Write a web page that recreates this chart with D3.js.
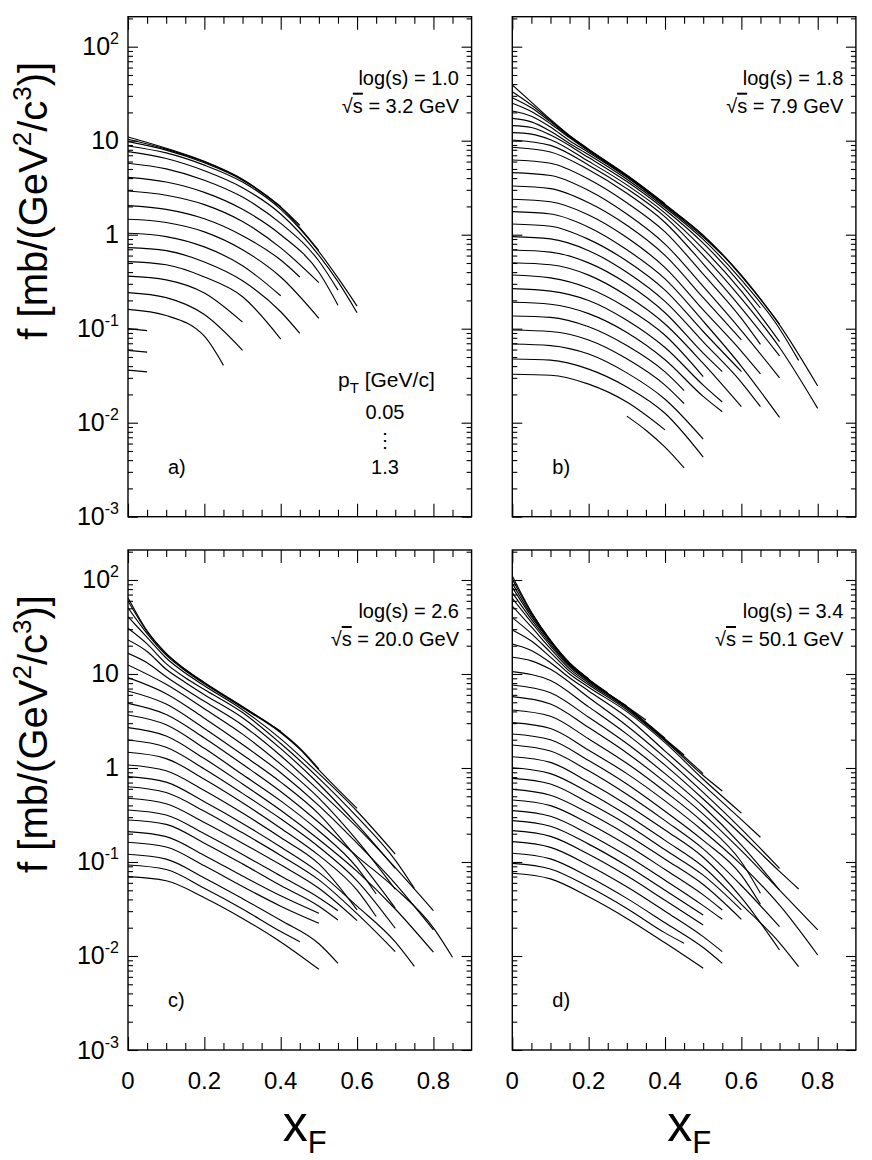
<!DOCTYPE html>
<html><head><meta charset="utf-8">
<script src="https://cdn.jsdelivr.net/npm/d3@7"></script>
<style>
body{margin:0;background:#fff}
text{font-family:"Liberation Sans",Arial,Helvetica,sans-serif;fill:#000}
</style></head><body>
<svg id="chart" width="872" height="1160"></svg>
<script>
// ---------- data (curve points are [xF, log10 f], f in mb/(GeV^2/c^3)) ----------
const xMajorTicks = [0, 0.2, 0.4, 0.6, 0.8];
const xTickLabels = ["0", "0.2", "0.4", "0.6", "0.8"];
const yDecadeExps = [2, 1, 0, -1, -2, -3];
const yTickBase = ["10", "10", "1", "10", "10", "10"];
const yTickSup = ["2", "", "", "-1", "-2", "-3"];
const panelLetters = ["a)", "b)", "c)", "d)"];
const logSLabels = ["1.0", "1.8", "2.6", "3.4"];
const sqrtSLabels = ["3.2", "7.9", "20.0", "50.1"];
const legendPt = ["0.05", "1.3"];

const curvesA = [
 [[0,1.04],[0.1,0.92],[0.2,0.78],[0.3,0.59],[0.4,0.30]],
 [[0,1.015],[0.1,0.91],[0.2,0.775],[0.3,0.585],[0.4,0.295],[0.45,0.10]],
 [[0,0.99],[0.1,0.90],[0.2,0.765],[0.3,0.58],[0.4,0.29],[0.5,-0.17]],
 [[0,0.944],[0.1,0.87],[0.2,0.74],[0.3,0.56],[0.4,0.27],[0.5,-0.18],[0.55,-0.46],[0.6,-0.76]],
 [[0,0.883],[0.1,0.81],[0.2,0.68],[0.3,0.50],[0.4,0.22],[0.5,-0.22],[0.55,-0.50],[0.6,-0.83]],
 [[0,0.76],[0.1,0.70],[0.2,0.58],[0.3,0.40],[0.4,0.12],[0.5,-0.28],[0.55,-0.59]],
 [[0,0.61],[0.1,0.56],[0.2,0.45],[0.3,0.27],[0.4,0.0],[0.5,-0.40],[0.55,-0.75]],
 [[0,0.465],[0.1,0.42],[0.2,0.32],[0.3,0.14],[0.4,-0.14],[0.5,-0.51]],
 [[0,0.31],[0.1,0.27],[0.2,0.17],[0.3,-0.01],[0.4,-0.27],[0.45,-0.45]],
 [[0,0.164],[0.1,0.13],[0.2,0.03],[0.3,-0.16],[0.4,-0.45],[0.5,-0.89]],
 [[0,0.015],[0.1,-0.02],[0.2,-0.13],[0.3,-0.33],[0.4,-0.65]],
 [[0,-0.138],[0.1,-0.17],[0.2,-0.29],[0.3,-0.49],[0.4,-0.82],[0.45,-1.05]],
 [[0,-0.287],[0.1,-0.32],[0.2,-0.45],[0.3,-0.66],[0.4,-1.11]],
 [[0,-0.44],[0.1,-0.48],[0.2,-0.62],[0.3,-0.93]],
 [[0,-0.617],[0.1,-0.67],[0.2,-0.85],[0.3,-1.23]],
 [[0,-0.794],[0.1,-0.86],[0.2,-1.08],[0.25,-1.39]],
 [[0,-1.0],[0.05,-1.02]],
 [[0,-1.23],[0.05,-1.25]],
 [[0,-1.44],[0.05,-1.46]]
];

const curvesB = [
 [[0,1.593],[0.05,1.41],[0.1,1.225],[0.15,1.055],[0.2,0.91],[0.3,0.635],[0.4,0.33]],
 [[0,1.521],[0.05,1.38],[0.1,1.215],[0.15,1.05],[0.2,0.905],[0.3,0.63],[0.4,0.325],[0.45,0.16]],
 [[0,1.457],[0.05,1.35],[0.1,1.2],[0.15,1.04],[0.2,0.9],[0.3,0.625],[0.4,0.32],[0.5,-0.005],[0.6,-0.43],[0.7,-0.95]],
 [[0,1.398],[0.05,1.31],[0.1,1.18],[0.15,1.03],[0.2,0.89],[0.3,0.62],[0.4,0.315],[0.5,-0.01],[0.6,-0.44],[0.7,-0.96],[0.8,-1.61]],
 [[0,1.316],[0.05,1.26],[0.1,1.145],[0.15,1.0],[0.2,0.875],[0.3,0.61],[0.4,0.305],[0.5,-0.025],[0.55,-0.215]],
 [[0,1.238],[0.05,1.2],[0.1,1.1],[0.15,0.97],[0.2,0.85],[0.3,0.59],[0.4,0.29],[0.5,-0.05],[0.6,-0.48],[0.7,-1.0],[0.75,-1.337]],
 [[0,1.16],[0.05,1.14],[0.1,1.06],[0.2,0.82],[0.3,0.565],[0.4,0.265],[0.5,-0.09],[0.6,-0.53],[0.65,-0.78]],
 [[0,1.085],[0.05,1.07],[0.1,1.01],[0.2,0.78],[0.3,0.53],[0.4,0.23],[0.5,-0.15],[0.6,-0.6],[0.7,-1.137]],
 [[0,1.007],[0.1,0.95],[0.2,0.74],[0.3,0.49],[0.4,0.19],[0.5,-0.22],[0.6,-0.68],[0.7,-1.2],[0.8,-1.848]],
 [[0,0.93],[0.1,0.88],[0.2,0.69],[0.3,0.44],[0.4,0.13],[0.5,-0.31],[0.6,-0.78],[0.7,-1.29]],
 [[0,0.795],[0.1,0.76],[0.2,0.59],[0.3,0.34],[0.4,0.03],[0.5,-0.42],[0.6,-0.89],[0.65,-1.167]],
 [[0,0.66],[0.1,0.63],[0.2,0.47],[0.3,0.22],[0.4,-0.10],[0.5,-0.55],[0.6,-1.02],[0.7,-1.523]],
 [[0,0.518],[0.1,0.49],[0.2,0.34],[0.3,0.10],[0.4,-0.22],[0.5,-0.67],[0.6,-1.119]],
 [[0,0.377],[0.1,0.35],[0.2,0.21],[0.3,-0.03],[0.4,-0.35],[0.5,-0.80],[0.6,-1.24],[0.65,-1.48]],
 [[0,0.245],[0.1,0.22],[0.2,0.08],[0.3,-0.16],[0.4,-0.47],[0.5,-0.92],[0.6,-1.40],[0.7,-1.943]],
 [[0,0.114],[0.1,0.09],[0.2,-0.05],[0.3,-0.28],[0.4,-0.59],[0.5,-1.03],[0.6,-1.456]],
 [[0,-0.021],[0.1,-0.045],[0.2,-0.17],[0.3,-0.40],[0.4,-0.71],[0.5,-1.14],[0.6,-1.57],[0.65,-1.83]],
 [[0,-0.163],[0.1,-0.185],[0.2,-0.30],[0.3,-0.52],[0.4,-0.83],[0.5,-1.26],[0.55,-1.456]],
 [[0,-0.298],[0.1,-0.32],[0.2,-0.43],[0.3,-0.65],[0.4,-0.95],[0.5,-1.37],[0.6,-1.83]],
 [[0,-0.429],[0.1,-0.46],[0.2,-0.57],[0.3,-0.78],[0.4,-1.07],[0.5,-1.509]],
 [[0,-0.574],[0.1,-0.60],[0.2,-0.70],[0.3,-0.91],[0.4,-1.20],[0.5,-1.60],[0.55,-1.78]],
 [[0,-0.719],[0.1,-0.74],[0.2,-0.84],[0.3,-1.04],[0.4,-1.33],[0.5,-1.72],[0.55,-1.883]],
 [[0,-0.865],[0.1,-0.88],[0.2,-0.98],[0.3,-1.18],[0.4,-1.46],[0.45,-1.658]],
 [[0,-1.014],[0.1,-1.03],[0.2,-1.12],[0.3,-1.32],[0.4,-1.60],[0.45,-1.796]],
 [[0,-1.163],[0.1,-1.18],[0.2,-1.27],[0.3,-1.47],[0.4,-1.75],[0.5,-2.174]],
 [[0,-1.322],[0.1,-1.335],[0.2,-1.43],[0.3,-1.62],[0.4,-1.90],[0.5,-2.366]],
 [[0,-1.485],[0.1,-1.495],[0.2,-1.59],[0.3,-1.78],[0.4,-2.076]],
 [[0.3,-1.93],[0.35,-2.08],[0.4,-2.26],[0.45,-2.48]]
];

const curvesC = [
 [[0,1.812],[0.05,1.46],[0.1,1.22],[0.15,1.05],[0.2,0.91],[0.3,0.655],[0.4,0.39]],
 [[0,1.777],[0.05,1.45],[0.1,1.215],[0.15,1.045],[0.2,0.905],[0.3,0.65],[0.4,0.385],[0.45,0.21],[0.5,-0.01]],
 [[0,1.705],[0.05,1.43],[0.1,1.2],[0.15,1.035],[0.2,0.895],[0.3,0.64],[0.4,0.375],[0.45,0.2],[0.5,-0.02],[0.6,-0.43]],
 [[0,1.61],[0.05,1.39],[0.1,1.17],[0.15,1.01],[0.2,0.875],[0.3,0.62],[0.4,0.31],[0.5,-0.06],[0.6,-0.46],[0.7,-0.915]],
 [[0,1.486],[0.05,1.32],[0.1,1.11],[0.15,0.96],[0.2,0.835],[0.3,0.59],[0.4,0.26],[0.5,-0.11],[0.6,-0.52],[0.7,-0.98],[0.75,-1.28]],
 [[0,1.362],[0.05,1.24],[0.1,1.05],[0.15,0.91],[0.2,0.78],[0.3,0.534],[0.4,0.206],[0.5,-0.17],[0.6,-0.6],[0.7,-1.067]],
 [[0,1.22],[0.05,1.12],[0.1,0.97],[0.2,0.71],[0.3,0.455],[0.4,0.13],[0.5,-0.24],[0.6,-0.63],[0.7,-1.06],[0.8,-1.518]],
 [[0,1.096],[0.1,0.89],[0.2,0.63],[0.3,0.36],[0.4,0.04],[0.5,-0.32],[0.6,-0.77],[0.7,-1.29]],
 [[0,0.961],[0.1,0.79],[0.2,0.53],[0.3,0.25],[0.4,-0.05],[0.5,-0.40],[0.6,-0.8],[0.7,-1.23],[0.8,-1.723]],
 [[0,0.819],[0.1,0.68],[0.2,0.42],[0.3,0.14],[0.4,-0.15],[0.5,-0.49],[0.6,-0.96],[0.7,-1.49]],
 [[0,0.688],[0.1,0.57],[0.2,0.32],[0.3,0.04],[0.4,-0.25],[0.5,-0.58],[0.6,-0.94],[0.7,-1.28],[0.8,-1.7],[0.85,-2.014]],
 [[0,0.564],[0.1,0.46],[0.2,0.21],[0.3,-0.07],[0.4,-0.35],[0.5,-0.67],[0.6,-1.06],[0.65,-1.34]],
 [[0,0.429],[0.1,0.34],[0.2,0.10],[0.3,-0.17],[0.4,-0.45],[0.5,-0.76],[0.6,-1.1],[0.7,-1.5],[0.8,-1.96]],
 [[0,0.298],[0.1,0.22],[0.2,-0.01],[0.3,-0.27],[0.4,-0.54],[0.5,-0.84],[0.6,-1.2],[0.7,-1.705]],
 [[0,0.167],[0.1,0.10],[0.2,-0.12],[0.3,-0.37],[0.4,-0.64],[0.5,-0.93],[0.6,-1.3],[0.65,-1.58]],
 [[0,0.032],[0.1,-0.03],[0.2,-0.24],[0.3,-0.48],[0.4,-0.74],[0.5,-1.02],[0.6,-1.51]],
 [[0,-0.092],[0.1,-0.15],[0.2,-0.36],[0.3,-0.59],[0.4,-0.84],[0.5,-1.11],[0.6,-1.47],[0.7,-1.85],[0.75,-2.11]],
 [[0,-0.199],[0.1,-0.26],[0.2,-0.46],[0.3,-0.69],[0.4,-0.93],[0.5,-1.19],[0.6,-1.55],[0.7,-1.954]],
 [[0,-0.322],[0.1,-0.38],[0.2,-0.58],[0.3,-0.80],[0.4,-1.03],[0.5,-1.28],[0.6,-1.624]],
 [[0,-0.447],[0.1,-0.50],[0.2,-0.70],[0.3,-0.92],[0.4,-1.15],[0.5,-1.38],[0.55,-1.518]],
 [[0,-0.553],[0.1,-0.60],[0.2,-0.80],[0.3,-1.02],[0.4,-1.25],[0.5,-1.47],[0.55,-1.617]],
 [[0,-0.677],[0.1,-0.73],[0.2,-0.93],[0.3,-1.15],[0.4,-1.36],[0.5,-1.546]],
 [[0,-0.79],[0.1,-0.84],[0.2,-1.04],[0.3,-1.26],[0.4,-1.47],[0.5,-1.652]],
 [[0,-0.918],[0.1,-0.97],[0.2,-1.17],[0.3,-1.39],[0.4,-1.62],[0.5,-1.87],[0.55,-2.078]],
 [[0,-1.032],[0.1,-1.08],[0.2,-1.28],[0.3,-1.50],[0.4,-1.74],[0.45,-1.848]],
 [[0,-1.156],[0.1,-1.2],[0.2,-1.38],[0.3,-1.60],[0.4,-1.85],[0.5,-2.141]]
];

const curvesD = [
 [[0,2.043],[0.05,1.66],[0.1,1.36],[0.15,1.12],[0.2,0.95]],
 [[0,2.007],[0.05,1.65],[0.1,1.355],[0.15,1.115],[0.2,0.945],[0.25,0.8]],
 [[0,1.965],[0.05,1.63],[0.1,1.35],[0.15,1.11],[0.2,0.94],[0.3,0.66]],
 [[0,1.922],[0.05,1.61],[0.1,1.34],[0.15,1.10],[0.2,0.935],[0.3,0.655],[0.35,0.511]],
 [[0,1.865],[0.05,1.58],[0.1,1.32],[0.15,1.09],[0.2,0.93],[0.3,0.65],[0.4,0.316]],
 [[0,1.805],[0.05,1.55],[0.1,1.30],[0.15,1.075],[0.2,0.92],[0.3,0.645],[0.4,0.31],[0.45,0.138]],
 [[0,1.723],[0.05,1.50],[0.1,1.27],[0.15,1.055],[0.2,0.905],[0.3,0.635],[0.4,0.30],[0.5,-0.06]],
 [[0,1.60],[0.05,1.43],[0.1,1.23],[0.15,1.03],[0.2,0.885],[0.3,0.62],[0.4,0.29],[0.5,-0.08],[0.55,-0.245]],
 [[0,1.468],[0.05,1.35],[0.1,1.18],[0.15,1.0],[0.2,0.86],[0.3,0.60],[0.4,0.27],[0.5,-0.12],[0.6,-0.48]],
 [[0,1.319],[0.05,1.25],[0.1,1.12],[0.15,0.96],[0.2,0.82],[0.3,0.54],[0.4,0.18],[0.5,-0.18],[0.6,-0.55],[0.65,-0.737]],
 [[0,1.178],[0.05,1.14],[0.1,1.05],[0.2,0.75],[0.3,0.45],[0.4,0.11],[0.5,-0.26],[0.6,-0.65],[0.7,-1.067]],
 [[0,1.025],[0.1,0.93],[0.2,0.65],[0.3,0.36],[0.4,0.03],[0.5,-0.33],[0.6,-0.71],[0.7,-1.10],[0.75,-1.287]],
 [[0,0.883],[0.1,0.80],[0.2,0.54],[0.3,0.26],[0.4,-0.06],[0.5,-0.41],[0.6,-0.82],[0.7,-1.298]],
 [[0,0.759],[0.1,0.68],[0.2,0.43],[0.3,0.16],[0.4,-0.15],[0.5,-0.49],[0.6,-0.88],[0.7,-1.30],[0.8,-1.723]],
 [[0,0.617],[0.1,0.55],[0.2,0.31],[0.3,0.05],[0.4,-0.25],[0.5,-0.58],[0.6,-1.0],[0.65,-1.333]],
 [[0,0.482],[0.1,0.42],[0.2,0.19],[0.3,-0.06],[0.4,-0.35],[0.5,-0.67],[0.6,-1.03],[0.7,-1.46],[0.8,-1.99]],
 [[0,0.362],[0.1,0.30],[0.2,0.08],[0.3,-0.17],[0.4,-0.46],[0.5,-0.77],[0.6,-1.14],[0.65,-1.45]],
 [[0,0.245],[0.1,0.18],[0.2,-0.03],[0.3,-0.28],[0.4,-0.56],[0.5,-0.86],[0.6,-1.25],[0.7,-1.688]],
 [[0,0.12],[0.1,0.06],[0.2,-0.15],[0.3,-0.39],[0.4,-0.66],[0.5,-0.95],[0.6,-1.38],[0.7,-1.936]],
 [[0,0.003],[0.1,-0.06],[0.2,-0.26],[0.3,-0.50],[0.4,-0.77],[0.5,-1.05],[0.6,-1.45],[0.7,-1.86],[0.75,-2.114]],
 [[0,-0.11],[0.1,-0.17],[0.2,-0.37],[0.3,-0.60],[0.4,-0.87],[0.5,-1.14],[0.6,-1.51]],
 [[0,-0.227],[0.1,-0.29],[0.2,-0.48],[0.3,-0.71],[0.4,-0.97],[0.5,-1.24],[0.6,-1.61]],
 [[0,-0.34],[0.1,-0.40],[0.2,-0.59],[0.3,-0.82],[0.4,-1.08],[0.5,-1.35],[0.55,-1.51]],
 [[0,-0.454],[0.1,-0.514],[0.2,-0.704],[0.3,-0.934],[0.4,-1.194],[0.5,-1.464],[0.55,-1.61]],
 [[0,-0.56],[0.1,-0.62],[0.2,-0.81],[0.3,-1.04],[0.4,-1.30],[0.5,-1.564]],
 [[0,-0.667],[0.1,-0.727],[0.2,-0.917],[0.3,-1.147],[0.4,-1.407],[0.5,-1.67]],
 [[0,-0.784],[0.1,-0.844],[0.2,-1.034],[0.3,-1.264],[0.4,-1.524],[0.5,-1.794],[0.55,-1.954]],
 [[0,-0.907],[0.1,-0.967],[0.2,-1.157],[0.3,-1.387],[0.4,-1.647],[0.5,-1.91],[0.55,-2.078]],
 [[0,-1.014],[0.1,-1.074],[0.2,-1.264],[0.3,-1.494],[0.4,-1.754],[0.45,-1.865]],
 [[0,-1.12],[0.1,-1.18],[0.2,-1.37],[0.3,-1.60],[0.4,-1.86],[0.5,-2.13]]
];

// ---------- layout ----------
const panelW = 343.6, panelH = 500;
const panelOrigins = [[128, 16.7], [512.3, 16.7], [128, 550], [512.3, 550]];
const yMaxExp = 2.319;
const allCurves = [curvesA, curvesB, curvesC, curvesD];

const svg = d3.select("#chart");
svg.append("rect").attr("width", 872).attr("height", 1160).attr("fill", "#fff");

const yMajorVals = yDecadeExps.map(e => Math.pow(10, e));
const yMinorVals = [];
for (let e = -3; e <= 2; e++) for (let k = 2; k <= 9; k++) {
  const v = k * Math.pow(10, e);
  if (Math.log10(v) < yMaxExp) yMinorVals.push(v);
}
const xMinorVals = d3.range(1, 18).map(i => i * 0.05).filter(v => Math.abs(v / 0.2 - Math.round(v / 0.2)) > 1e-6);

panelOrigins.forEach(([left, top], i) => {
  const x = d3.scaleLinear().domain([0, 0.9]).range([left, left + panelW]);
  const y = d3.scaleLog().domain([1e-3, Math.pow(10, yMaxExp)]).range([top + panelH, top]);
  const g = svg.append("g");

  const clipId = "clip" + i;
  svg.append("clipPath").attr("id", clipId).append("rect")
    .attr("x", left).attr("y", top).attr("width", panelW).attr("height", panelH);

  const line = d3.line()
    .x(d => x(d[0]))
    .y(d => y(Math.pow(10, d[1])))
    .curve(d3.curveMonotoneX);

  g.append("g").attr("clip-path", `url(#${clipId})`)
    .selectAll("path").data(allCurves[i]).join("path")
    .attr("d", line).attr("fill", "none").attr("stroke", "#000").attr("stroke-width", 1.15);

  const styleAxis = sel => {
    sel.select(".domain").remove();
    sel.selectAll(".tick line").attr("stroke", "#000").attr("stroke-width", 1.1);
    sel.selectAll(".tick text").remove();
  };
  g.append("g").attr("transform", `translate(${left},0)`)
    .call(d3.axisRight(y).tickValues(yMajorVals).tickSize(10).tickFormat("")).call(styleAxis);
  g.append("g").attr("transform", `translate(${left},0)`)
    .call(d3.axisRight(y).tickValues(yMinorVals).tickSize(5).tickFormat("")).call(styleAxis);
  g.append("g").attr("transform", `translate(${left + panelW},0)`)
    .call(d3.axisLeft(y).tickValues(yMajorVals).tickSize(10).tickFormat("")).call(styleAxis);
  g.append("g").attr("transform", `translate(${left + panelW},0)`)
    .call(d3.axisLeft(y).tickValues(yMinorVals).tickSize(5).tickFormat("")).call(styleAxis);
  g.append("g").attr("transform", `translate(0,${top + panelH})`)
    .call(d3.axisTop(x).tickValues(xMajorTicks).tickSize(13).tickFormat("")).call(styleAxis);
  g.append("g").attr("transform", `translate(0,${top + panelH})`)
    .call(d3.axisTop(x).tickValues(xMinorVals).tickSize(7).tickFormat("")).call(styleAxis);
  g.append("g").attr("transform", `translate(0,${top})`)
    .call(d3.axisBottom(x).tickValues(xMajorTicks).tickSize(13).tickFormat("")).call(styleAxis);
  g.append("g").attr("transform", `translate(0,${top})`)
    .call(d3.axisBottom(x).tickValues(xMinorVals).tickSize(7).tickFormat("")).call(styleAxis);

  g.append("rect").attr("x", left).attr("y", top).attr("width", panelW).attr("height", panelH)
    .attr("fill", "none").attr("stroke", "#000").attr("stroke-width", 1.4);

  if (i % 2 === 0) {
    yDecadeExps.forEach((e, j) => {
      const t = g.append("text").attr("x", left - 9).attr("y", y(Math.pow(10, e)) + 8.5)
        .attr("text-anchor", "end").attr("font-size", 25);
      t.append("tspan").text(yTickBase[j]);
      if (yTickSup[j]) t.append("tspan").attr("font-size", 16).attr("dy", -11).text(yTickSup[j]);
    });
  }
  if (i >= 2) {
    xMajorTicks.forEach((v, j) => {
      g.append("text").attr("x", x(v)).attr("y", top + panelH + 39)
        .attr("text-anchor", "middle").attr("font-size", 24).text(xTickLabels[j]);
    });
    const xt = g.append("text").attr("x", left + panelW / 2 + 5).attr("y", top + panelH + 91)
      .attr("text-anchor", "middle").attr("font-size", 50);
    xt.append("tspan").text("x");
    xt.append("tspan").attr("font-size", 31).attr("dy", 12).text("F");
  }
  if (i % 2 === 0) {
    const cy = top + 184;
    const yt = g.append("text").attr("transform", `translate(47,${cy}) rotate(-90)`)
      .attr("text-anchor", "middle").attr("font-size", 40);
    yt.append("tspan").text("f [mb/(GeV");
    yt.append("tspan").attr("font-size", 26).attr("dy", -16).text("2");
    yt.append("tspan").attr("dy", 16).text("/c");
    yt.append("tspan").attr("font-size", 26).attr("dy", -16).text("3");
    yt.append("tspan").attr("dy", 16).text(")]");
  }
  g.append("text").attr("x", left + 331).attr("y", top + 68).attr("text-anchor", "end")
    .attr("font-size", 20).text("log(s) = " + logSLabels[i]);
  const st = g.append("text").attr("x", left + 331).attr("y", top + 96).attr("text-anchor", "end")
    .attr("font-size", 20);
  st.append("tspan").text("\u221A");
  st.append("tspan").style("text-decoration", "overline").text("s");
  st.append("tspan").text(" = " + sqrtSLabels[i] + " GeV");
  g.append("text").attr("x", left + 40).attr("y", top + 457).attr("font-size", 20).text(panelLetters[i]);

  if (i === 0) {
    const lt = g.append("text").attr("x", left + 210).attr("y", top + 370).attr("font-size", 21);
    lt.append("tspan").text("p");
    lt.append("tspan").attr("font-size", 15).attr("dy", 6).text("T");
    lt.append("tspan").attr("dy", -6).text(" [GeV/c]");
    g.append("text").attr("x", left + 257).attr("y", top + 402).attr("text-anchor", "middle")
      .attr("font-size", 20).text(legendPt[0]);
    g.append("text").attr("x", left + 257).attr("y", top + 430).attr("text-anchor", "middle")
      .attr("font-size", 20).text("\u22EE");
    g.append("text").attr("x", left + 257).attr("y", top + 457).attr("text-anchor", "middle")
      .attr("font-size", 20).text(legendPt[1]);
  }
});
</script>
</body></html>
